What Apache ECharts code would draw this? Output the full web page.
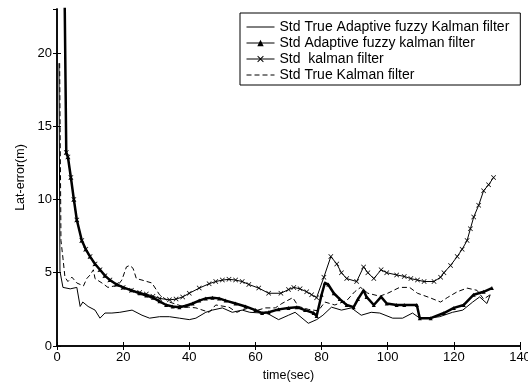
<!DOCTYPE html>
<html><head><meta charset="utf-8">
<script src="https://cdn.jsdelivr.net/npm/echarts@6/dist/echarts.min.js"></script>
<style>html,body{margin:0;padding:0;background:#fff}#c{width:528px;height:383px}</style>
</head><body><div id="c"></div>
<script>
const seriesNames = ["Std True Adaptive fuzzy Kalman filter","Std Adaptive fuzzy kalman filter","Std  kalman filter","Std True Kalman filter"];
const xTicks = [0,20,40,60,80,100,120,140];
const yTicks = [0,5,10,15,20];

const trueAdaptive = [[0.6,19.3],[0.9,5.1],[1.8,4.0],[4,3.9],[6,4.0],[7,2.7],[7.8,3.0],[9.4,2.7],[11.5,2.45],[13,1.9],[14.5,2.25],[16.6,2.25],[19,2.3],[22.7,2.45],[25.7,2.1],[28,1.9],[31,2.0],[34,2.0],[37,1.9],[40,1.8],[42,1.9],[45,2.3],[47,2.45],[50,2.6],[53,2.3],[56,2.45],[58.3,2.3],[62,2.25],[63,2.3],[67,1.8],[70,2.1],[72,2.3],[76,1.55],[78.5,1.8],[80.4,2.1],[83,2.65],[86,2.45],[89,2.6],[92,2.1],[95,2.3],[97.6,2.25],[101.5,1.9],[104.5,1.9],[107.5,2.25],[109.7,1.9],[112,1.9],[115.7,2.0],[119.6,2.3],[122.7,2.45],[125.7,3.0],[127.8,3.35],[130,2.9],[131,3.5]];

const adaptiveFuzzy = [[2.3,24],[2.8,13.2],[3.3,12.9],[4.2,11.5],[5.1,10],[6,8.6],[7.5,7.2],[8.7,6.6],[10,6.1],[11.5,5.6],[13,5.2],[14.5,4.8],[16,4.5],[18,4.2],[20,4.0],[22.5,3.8],[25,3.6],[27,3.45],[29,3.3],[31,3.05],[33,2.8],[35,2.7],[37,2.65],[39,2.75],[41,2.9],[43,3.1],[45,3.25],[47,3.3],[49,3.25],[51,3.1],[54,2.9],[57,2.7],[60,2.45],[62,2.25],[64,2.3],[67,2.5],[70,2.6],[72.5,2.65],[75,2.45],[77.6,2.25],[78.5,2.05],[80,3.5],[81,4.3],[82,4.2],[83.7,3.6],[85.5,3.2],[87.6,2.8],[89.7,2.65],[91,3.2],[92.7,3.8],[93.6,3.35],[95.8,2.8],[98,3.35],[99.7,2.9],[102.7,2.8],[105,2.8],[108.8,2.8],[109.7,1.9],[113,1.9],[117,2.25],[120,2.6],[123,2.8],[126,3.5],[129,3.7],[131.5,3.95]];

const kalman = [[2.3,24],[2.8,13.2],[3.3,12.9],[4.2,11.5],[5.1,10],[6,8.6],[7.5,7.2],[8.7,6.6],[10,6.1],[11.5,5.6],[13,5.2],[14.5,4.8],[16,4.5],[18,4.2],[20,4.0],[22.5,3.8],[25,3.65],[27,3.55],[29,3.4],[31,3.25],[34,3.15],[36,3.2],[38,3.35],[40,3.6],[43,3.95],[46,4.25],[48,4.4],[50,4.5],[52,4.55],[54,4.5],[56,4.4],[58,4.2],[61,3.95],[64,3.6],[67.7,3.6],[70,3.85],[71.6,4.0],[73.5,3.9],[75.5,3.7],[77,3.5],[78.5,3.3],[80.7,4.7],[82.8,6.1],[84.6,5.6],[86,5.0],[87.6,4.6],[90.6,4.4],[92.7,5.4],[94,5.0],[95.8,4.6],[98,5.2],[99.7,5.0],[102.7,4.85],[105,4.75],[107,4.6],[109,4.5],[111,4.4],[114,4.4],[116,4.7],[117,5.0],[119,5.5],[121,6.1],[122.5,6.6],[124,7.2],[125,8.0],[126,8.8],[127.5,9.6],[129,10.6],[130.5,11.0],[132,11.5]];

const trueKalman = [[0.8,19.3],[1.2,7.2],[1.8,6.0],[2.4,4.7],[3.3,4.4],[4.5,4.7],[6,4.3],[8,4.1],[9,4.6],[10,4.85],[11,5.2],[11.5,4.6],[13.6,4.3],[15.4,4.0],[18.4,4.15],[19.6,4.5],[21,5.4],[22,5.5],[23,5.3],[24,4.6],[25.7,4.5],[28.7,4.3],[31,3.5],[34,3.0],[38,2.7],[42,2.6],[46,2.3],[48,2.8],[52,2.65],[54.4,2.3],[56,2.45],[58,2.6],[60,2.4],[63,2.6],[66,2.6],[68,2.9],[71.3,3.3],[73,2.7],[76,2.5],[79,2.4],[81,3.0],[84,2.8],[87.6,3.1],[90,3.7],[91.8,4.0],[94,3.6],[97.6,3.4],[100,3.6],[103.6,4.0],[106.6,4.0],[109,3.6],[112.7,3.3],[116,3.0],[118,3.3],[121,3.7],[124,3.95],[127,3.8],[129,3.2],[131,3.5]];

const font = "Liberation Sans, Arial, sans-serif";
const xMark = 'path://M0,1L1,0L5,4L9,0L10,1L6,5L10,9L9,10L5,6L1,10L0,9L4,5Z';

const chart = echarts.init(document.getElementById('c'), null, {renderer:'canvas'});
const axisCommon = {
  axisLine:{show:true,lineStyle:{color:'#000',width:1.5}},
  axisTick:{show:true,inside:true,length:4,lineStyle:{color:'#000'}},
  splitLine:{show:false}
};
chart.setOption({
  animation:false,
  backgroundColor:'#fff',
  textStyle:{fontFamily:font,color:'#000'},
  grid:{left:57,right:8,top:9,bottom:37,containLabel:false,outerBoundsMode:'none'},
  legend:{
    orient:'vertical', left:240, top:13,
    padding:[6,11,2,6], itemGap:0, itemWidth:28, itemHeight:8,
    backgroundColor:'#fff', borderColor:'#000', borderWidth:1,
    textStyle:{fontFamily:font,fontSize:14,color:'#000',lineHeight:16},
    lineStyle:{width:1},
    data:[
      {name:seriesNames[0],itemStyle:{opacity:0}},
      {name:seriesNames[1]},
      {name:seriesNames[2]},
      {name:seriesNames[3],itemStyle:{opacity:0}}
    ]
  },
  xAxis:[
    Object.assign({type:'value',min:0,max:140,interval:20,position:'bottom',
      name:'time(sec)',nameLocation:'middle',nameGap:22,
      nameTextStyle:{fontFamily:font,fontSize:12.5,color:'#000'},
      axisLabel:{color:'#000',fontSize:13,fontFamily:font,margin:5,
        formatter:v=>xTicks.includes(v)?String(v):''}},axisCommon),
    Object.assign({type:'value',min:0,max:140,interval:20,position:'top',
      axisLabel:{show:false}},axisCommon)
  ],
  yAxis:[
    Object.assign({type:'value',min:0,max:23,interval:5,position:'left',
      name:'Lat-error(m)',nameLocation:'middle',nameGap:28,
      nameTextStyle:{fontFamily:font,fontSize:12.5,color:'#000'},
      axisLabel:{color:'#000',fontSize:13,fontFamily:font,margin:5,showMaxLabel:false,
        formatter:v=>yTicks.includes(v)?String(v):''}},axisCommon),
    Object.assign({type:'value',min:0,max:23,interval:5,position:'right',
      axisLabel:{show:false}},axisCommon)
  ],
  series:[
    {name:seriesNames[0],type:'line',data:trueAdaptive,showSymbol:false,symbol:'none',
      lineStyle:{color:'#000',width:1},itemStyle:{color:'#000'}},
    {name:seriesNames[1],type:'line',data:adaptiveFuzzy,symbol:'triangle',symbolSize:4,
      lineStyle:{color:'#000',width:2.5},itemStyle:{color:'#000'}},
    {name:seriesNames[2],type:'line',data:kalman,symbol:xMark,symbolSize:5,
      lineStyle:{color:'#000',width:1},itemStyle:{color:'#000'}},
    {name:seriesNames[3],type:'line',data:trueKalman,showSymbol:false,symbol:'none',
      lineStyle:{color:'#000',width:1,type:[5,3]},itemStyle:{color:'#000'}}
  ]
});
</script></body></html>
